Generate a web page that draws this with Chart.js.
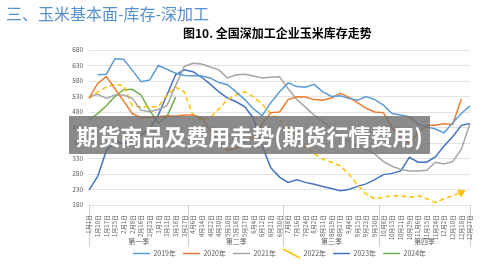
<!DOCTYPE html>
<html>
<head>
<meta charset="utf-8">
<script src="https://cdn.jsdelivr.net/npm/chart.js@4.4.0/dist/chart.umd.min.js"></script>
<style>
  body { margin: 0; background: #fff; font-family: "Noto Sans CJK SC", sans-serif; }
  #page { position: relative; width: 500px; height: 271px; overflow: hidden; }
  #chart { position: absolute; left: 0; top: 0; }
  #head { position: absolute; left: 6px; top: 1px; font-size: 16px; color: #5590cf; white-space: nowrap; }
  #title { position: absolute; left: 183px; top: 24px; font-size: 12px; font-weight: bold; color: #000; white-space: nowrap; }
  #mark { position: absolute; left: 69px; top: 116px; width: 361px; height: 38px; background: rgba(110,110,110,0.8);
          color: #fff; font-weight: bold; font-size: 22px; line-height: 38px; text-align: center; white-space: nowrap; }
</style>
</head>
<body>
<div id="page">
  <canvas id="chart" width="500" height="271"></canvas>
  <div id="head">三、玉米基本面-库存-深加工</div>
  <div id="title">图10. 全国深加工企业玉米库存走势</div>
  <div id="mark">期货商品及费用走势(期货行情费用)</div>
</div>
<script>
// dates on the category axis (one per weekly reading)
var dates = ["1月1日", "1月10日", "1月17日", "1月25日", "2月1日", "2月8日", "2月16日", "2月23日", "3月1日", "3月11日", "3月18日", "3月27日",
             "4月6日", "4月14日", "4月22日", "4月30日", "5月10日", "5月18日", "5月27日", "6月4日", "6月12日", "6月21日", "6月30日",
             "7月8日", "7月16日", "7月24日", "8月2日", "8月11日", "8月19日", "8月27日", "9月4日", "9月15日", "9月23日", "9月30日",
             "10月8日", "10月13日", "10月21日", "10月29日", "11月6日", "11月15日", "11月24日", "12月2日", "12月10日", "12月18日", "12月27日"];

// quarter groups under the dates
var quarters = ["第一季", "第二季", "第三季", "第四季"];
var quarterCenters = [5.75, 17, 28, 38.75];
var quarterBounds = [0, 11.5, 22.5, 33.5, 44];

var y2019 = [null, 600, 602, 652, 650, 615, 578, 583, 630, 618, 605, 598, 597, 596, 590, 575, 568, 545, 520, 490, 468, 510, 545,
             574, 562, 560, 569, 545, 530, 532, 524, 518, 530, 520, 502, 475, 470, 464, 440, 432, 425, 413, 445, 475, 500];
var y2020 = [524, 572, 594, 555, 515, 475, 462, 462, 465, 468, 466, 470, 470, 462, 420, 385, 357, 362, 385, 400, 440, 478, 480,
             520, 529, 528, 520, 518, 525, 540, 528, 510, 492, 480, 478, 430, 395, 378, 415, 437, 437, 442, 440, 522, null];
var y2021 = [529, 537, 524, 535, 535, 524, 486, 481, 488, 500, 565, 627, 637, 635, 625, 616, 590, 600, 602, 596, 590, 592, 594,
             555, 520, 495, 470, 450, 425, 400, 385, 372, 360, 345, 320, 305, 295, 290, 290, 292, 318, 312, 320, 360, 443];
var y2022 = [524, 545, 560, 569, 565, 500, 497, 497, 497, 535, 560, 545, 470, 453, 462, 490, 520, 535, 545, 529, 505, 475, 455,
             430, 400, 370, 345, 328, 318, 307, 280, 245, 215, 200, 205, 210, 210, 205, 210, 200, 188, 200, 210, 220, null];
var y2023 = [228, 272, 355, 385, 378, 390, 405, 426, 470, 535, 600, 616, 610, 592, 570, 545, 525, 513, 497, 460, 370, 300, 270,
             253, 261, 253, 247, 240, 233, 226, 230, 240, 248, 262, 278, 282, 290, 334, 318, 318, 335, 370, 400, 437, 443];
var y2024 = [455, 475, 500, 530, 552, 553, 535, 485, 445, 465, 528];

var lastYellow = 43;

function line(label, data, color, extra) {
  var ds = {
    label: label,
    data: data,
    borderColor: color,
    backgroundColor: color,
    borderWidth: 1.5,
    pointRadius: 0,
    pointStyle: 'line',
    tension: 0
  };
  return Object.assign(ds, extra || {});
}

new Chart(document.getElementById('chart'), {
  type: 'line',
  data: {
    labels: dates,
    datasets: [
      line('2019年', y2019, '#5B9BD5'),
      line('2020年', y2020, '#ED7D31'),
      line('2021年', y2021, '#A5A5A5'),
      line('2022年', y2022, '#FFC000', {
        borderDash: [5, 3],
        pointStyle: function (c) { return c.dataIndex === lastYellow ? 'triangle' : 'line'; },
        pointRadius: function (c) { return c.dataIndex === lastYellow ? 3.5 : 0; },
        pointRotation: 65
      }),
      line('2023年', y2023, '#4472C4'),
      line('2024年', y2024, '#70AD47')
    ]
  },
  options: {
    responsive: false,
    animation: false,
    layout: { padding: { left: 60, right: 30, top: 50, bottom: 4 } },
    plugins: {
      legend: {
        position: 'bottom',
        fullSize: false,
        labels: {
          usePointStyle: true,
          pointStyleWidth: 17,
          padding: 7,
          color: '#595959',
          font: { size: 7, family: 'Noto Sans CJK SC' }
        }
      },
      tooltip: { enabled: false }
    },
    scales: {
      y: {
        min: 180,
        max: 680,
        ticks: { stepSize: 50, padding: 6, color: '#595959', font: { size: 6.5, family: 'Noto Sans CJK SC' } },
        grid: { color: '#d9d9d9', lineWidth: 0.75, drawTicks: false },
        border: { display: false },
        afterFit: function (s) { s.width = 29; }
      },
      x: {
        weight: 1,
        offset: false,
        ticks: { autoSkip: false, minRotation: 90, maxRotation: 90, padding: 2, color: '#595959',
                 font: { size: 6, family: 'Noto Sans CJK SC' } },
        grid: { display: false },
        border: { display: false },
        afterFit: function (s) { s.height = 38; }
      },
      x2: {
        type: 'linear',
        position: 'bottom',
        weight: 0,
        min: 0,
        max: 44,
        afterBuildTicks: function (s) {
          s.ticks = quarterBounds.concat(quarterCenters).sort(function (a, b) { return a - b; })
            .map(function (v) { return { value: v }; });
        },
        ticks: {
          autoSkip: false,
          mirror: true,
          padding: -41,
          color: '#595959',
          font: { size: 7, family: 'Noto Sans CJK SC' },
          callback: function (v) {
            var k = quarterCenters.indexOf(v);
            return k >= 0 ? quarters[k] : '';
          }
        },
        grid: {
          drawOnChartArea: false,
          tickLength: 42,
          lineWidth: 0.75,
          tickColor: function (c) {
            return c.tick && quarterBounds.indexOf(c.tick.value) >= 0 ? '#bfbfbf' : 'rgba(0,0,0,0)';
          }
        },
        border: { display: false },
        afterFit: function (s) { s.height = 0; }
      }
    }
  }
});
</script>
</body>
</html>
